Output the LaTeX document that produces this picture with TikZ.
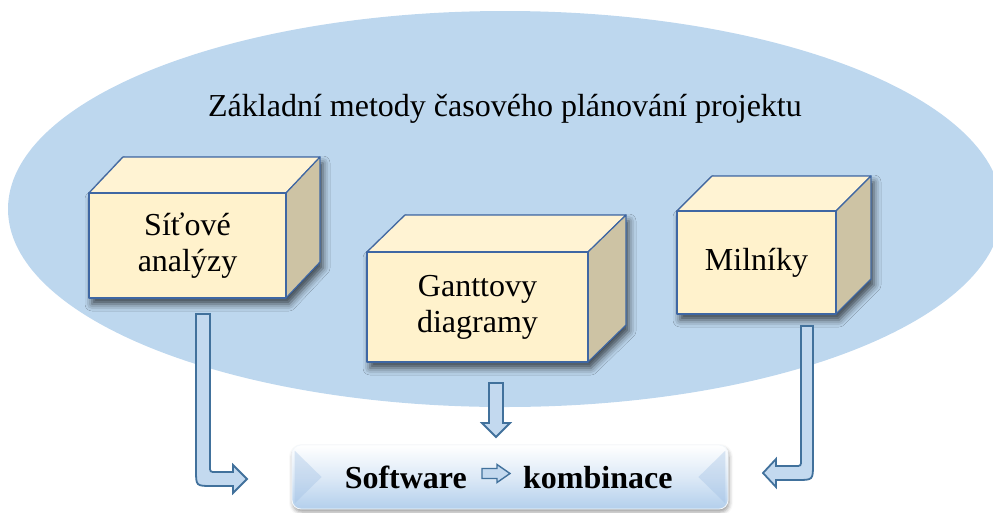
\documentclass[tikz,border=0pt]{standalone}
\usepackage{fontspec}
\setmainfont{Liberation Serif}
\usetikzlibrary{shadows.blur}

\definecolor{ellfill}{HTML}{BDD7EE}
\definecolor{cream}{HTML}{FFF2CC}
\definecolor{creamtop}{HTML}{FFF3D3}
\definecolor{cubeside}{HTML}{CDC3A4}
\definecolor{cubeedge}{HTML}{3F67A3}
\definecolor{arrfill}{HTML}{C3D9EF}
\definecolor{arredge}{HTML}{41719C}
\definecolor{swblue}{HTML}{B3CFEC}
\definecolor{swbevel}{HTML}{9DBDE2}

\tikzset{
  bigtext/.style={font=\fontsize{32}{36}\selectfont},
  cubefront/.style={draw=cubeedge, line width=1.2pt, fill=cream, inner sep=0pt,
    align=center, bigtext, line join=round},
  cubeline/.style={draw=cubeedge, line width=1.2pt, line join=round},
  cubeshadow/.style={blur shadow={shadow xshift=3pt, shadow yshift=-6pt,
    shadow blur radius=7pt, shadow opacity=68}},
  blockarrow/.style={draw=arredge, fill=arrfill, line width=1.8pt, line join=miter},
}

% cuboid: #1 name, (#2,#3) centre of the front face, #4 x #5 its size,
% (#6,#7) depth offset of the back faces, #8 text
\newcommand{\cuboid}[8]{%
  \path[cubeshadow] ({#2-#4/2},{#3+#5/2}) -- ({#2-#4/2},{#3-#5/2})
    -- ({#2-#4/2+#6},{#3-#5/2+#7}) -- ({#2+#4/2+#6},{#3-#5/2+#7})
    -- ({#2+#4/2+#6},{#3+#5/2+#7}) -- ({#2+#4/2},{#3+#5/2}) -- cycle;
  \filldraw[cubeline, fill=creamtop] ({#2-#4/2},{#3-#5/2})
    -- ({#2-#4/2+#6},{#3-#5/2+#7}) -- ({#2+#4/2+#6},{#3-#5/2+#7})
    -- ({#2+#4/2},{#3-#5/2}) -- cycle;
  \filldraw[cubeline, fill=cubeside] ({#2+#4/2},{#3-#5/2})
    -- ({#2+#4/2+#6},{#3-#5/2+#7}) -- ({#2+#4/2+#6},{#3+#5/2+#7})
    -- ({#2+#4/2},{#3+#5/2}) -- cycle;
  \node[cubefront, minimum width=#4pt, minimum height=#5pt] (#1) at (#2,#3) {#8};}

\begin{document}
\begin{tikzpicture}[x=1pt, y=-1pt]
\useasboundingbox (0,0) rectangle (993,512);
\clip (0,0) rectangle (993,512);

% background ellipse
\fill[ellfill] (505,209) ellipse [x radius=497, y radius=198];

\node[anchor=base, bigtext] (title) at (505,116)
  {Základní metody časového plánování projektu};

% the three cuboids
\cuboid{net}{187.5}{245.5}{197}{105}{34}{-36}{Síťové\\analýzy}
\cuboid{gantt}{477.5}{307}{221}{110}{38}{-37}{Ganttovy\\diagramy}
\cuboid{miles}{756.5}{262.5}{159}{103}{35}{-35}{Milníky}

% result box
\node[draw=white!85!swblue, line width=0.8pt, rounded corners=9pt,
      top color=white, bottom color=swblue, middle color=white!55!swblue,
      minimum width=436pt, minimum height=64pt,
      blur shadow={shadow xshift=1pt, shadow yshift=-3pt, shadow blur radius=4pt, shadow opacity=40}]
      (sw) at (510,477) {};
\fill[swbevel, opacity=0.35] ([shift={(3,6)}]sw.north west) -- ([shift={(30,0)}]sw.west)
  -- ([shift={(3,-6)}]sw.south west) -- cycle;
\fill[swbevel, opacity=0.35] ([shift={(-3,6)}]sw.north east) -- ([shift={(-30,0)}]sw.east)
  -- ([shift={(-3,-6)}]sw.south east) -- cycle;

\node[anchor=base east, inner sep=0pt, font=\fontsize{32}{36}\selectfont\bfseries]
  (swl) at (467,488) {Software};
\node[anchor=base west, inner sep=0pt, font=\fontsize{32}{36}\selectfont\bfseries]
  (swr) at (523,488) {kombinace};
\coordinate (swa) at (496,473.5);
\draw[blockarrow, line width=1.4pt] ([shift={(-14,-5)}]swa) -- ++(15,0) -- ++(0,-4)
  -- ([shift={(14,0)}]swa) -- ([shift={(1,9)}]swa) -- ++(0,-4) -- ++(-15,0) -- cycle;

% block arrows toward the result box
\draw[blockarrow] (489,383) -- (503,383) -- (503,423) -- (510,423) -- (496,437)
  -- (482,423) -- (489,423) -- cycle;

\draw[blockarrow] (196,314) -- (210,314) -- (210,466) .. controls (210,472) .. (216,472)
  -- (233,472) -- (233,465) -- (247,479) -- (233,493) -- (233,486) -- (212,486)
  .. controls (196,486) .. (196,470) -- cycle;

\draw[blockarrow] (813,326) -- (801,326) -- (801,460) .. controls (801,466) .. (795,466)
  -- (776,466) -- (776,459) -- (763,473) -- (776,487) -- (776,480) -- (797,480)
  .. controls (813,480) .. (813,464) -- cycle;
\end{tikzpicture}
\end{document}
